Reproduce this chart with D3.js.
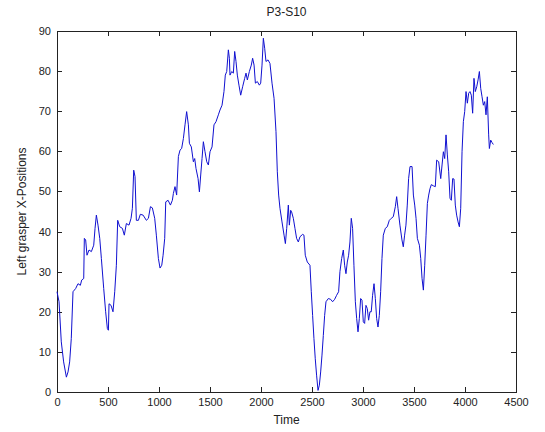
<!DOCTYPE html>
<html>
<head>
<meta charset="utf-8">
<script src="https://cdn.jsdelivr.net/npm/d3@7"></script>
<style>
  body { margin: 0; background: #fff; }
  text { font-family: "Liberation Sans", Arial, sans-serif; fill: #222; }
  .axis path, .axis line { stroke: #222; shape-rendering: crispEdges; }
  .axis text { font-size: 11px; }
</style>
</head>
<body>
<div id="canvas"></div>
<script>
// ---- DATA ----
var time = [0,20,42,65,92,108,124,140,157,183,206,229,242,262,268,281,294,314,337,360,373,386,402,419,435,458,477,494,504,510,530,549,566,582,595,615,641,660,680,706,726,739,752,765,778,798,817,844,876,896,916,935,958,974,994,1010,1027,1040,1056,1066,1089,1112,1131,
  1141,1157,1173,1190,1206,1222,1239,1255,1271,1288,1298,1317,1337,1350,1363,1383,1396,1409,1422,1435,1451,1468,1484,1500,1520,1539,1559,1582,1598,1618,1637,1650,1664,1680,1690,1696,1713,1729,1742,1755,1768,1784,1801,1820,1840,1853,1866,1886,1905,1918,1932,1945,1964,1984,1997,2010,2023,2036,2049,2069,2088,2108,2128,2147,2160,2173,2186,2206,2226,2239,2252,2268,2278,2291,
  2300,2317,2333,2349,2366,2382,2408,2421,2434,2454,2480,2493,2506,2519,2532,2545,2559,2572,2585,2598,2611,2624,2637,2660,2683,2702,2722,2741,2761,2774,2791,2807,2820,2833,2846,2859,2872,2885,2898,2911,2925,2938,2951,2964,2977,2990,3003,3016,3029,3042,3055,3068,3081,3094,3108,3121,3134,3147,3160,3173,3186,3199,3219,3238,3258,3277,3297,3317,3330,3343,3362,3382,3395,3408,3421,3434,3447,
  3461,3481,3494,3507,3520,3533,3553,3566,3579,3592,3605,3618,3631,3644,3657,3670,3690,3709,3722,3742,3762,3775,3788,3801,3814,3827,3840,3853,3866,3879,3892,3905,3918,3932,3945,3958,3971,3984,3997,4010,4023,4036,4049,4062,4075,4088,4101,4115,4128,4141,4154,4167,4180,4193,4206,4219,4232,4239,4252,4265,4278];

var posX = [25,22.5,12.5,7.5,3.7,5,7.5,13.3,25,25.8,27,26.6,27.9,28.3,38.3,37.9,34.1,35.4,35,36.6,40.8,44.1,41.6,38.3,33.3,25.8,20,15.8,15.4,22,21.6,20,25,31.6,42.8,41.2,40.8,39.1,42,41.6,43.3,45.8,55.3,53.7,42.8,42.8,44.3,44.1,42.8,43.3,46.2,45.9,43.3,39.1,33.3,30.9,31.6,34.1,38.3,47.4,47.8,46.6,47.8,
  49.5,51.2,49.1,58.7,60.3,60.7,63.2,66.6,69.9,66.6,62,61.1,57.4,58.2,55.7,53.2,49.9,54.1,58.2,62.4,59.9,57.4,56.6,59.9,61.1,66.6,67.4,69.1,70.3,71.5,74.9,79,79.9,85.3,83.2,79,79.9,79.5,84.9,82.4,79,76.5,74,76.1,78.2,79.5,77.8,79.9,81.5,83.2,81.5,77,77.4,76.5,77,81.5,88.2,85.7,82.4,82.8,81.9,77,73.2,64.9,54.9,49.1,45.8,42.4,39.1,37,40.8,46.6,41.6,45.3,
  44.9,43.3,40.8,38.3,37.4,38.7,39.3,39.1,34.1,32.4,31.6,25,19.1,13.3,8.3,4.2,0.4,1.7,5,9.2,14.1,19.1,22.5,23.3,23.1,22.5,23.1,24.1,25,30,33.3,35.4,31.6,29.5,32.4,34.1,37.4,43.3,40.8,31.6,22.5,18.3,15,18.3,23.3,22.9,17.5,17.1,21.6,20.8,17.9,20,20,24.1,27,23.3,18.3,16.2,19.1,25,33.3,39.1,40.8,41.2,42.8,43.3,43.7,46.2,48.7,45.8,41.6,37.9,36.2,39.1,41.6,46.6,53.2,
  56.2,56.2,49.1,46.6,43.3,38.3,36.6,33.3,28.3,25.4,31.6,39.1,47,49.1,50.7,51.7,51.4,51.2,57.8,57.4,53.2,56.6,59.9,58.2,64.1,59.1,54.9,48.3,47.8,53.2,53.1,46.6,44.1,42.4,41.2,45.8,59.9,67.4,69.9,74.9,72,74.5,74.9,74,69.5,78.2,74.9,76.1,77.8,79.9,75.7,73.6,71.5,72.4,69.1,73.6,64.1,60.7,62.8,62.2,61.7];

var xTicks = [0,500,1000,1500,2000,2500,3000,3500,4000,4500];
var yTicks = [0,10,20,30,40,50,60,70,80,90];

// ---- CONVENTIONS ----
var outerWidth = 545, outerHeight = 432;
var margin = {top:31, right:29, bottom:40, left:57};
var width = outerWidth - margin.left - margin.right,
    height = outerHeight - margin.top - margin.bottom;

var svg = d3.select('#canvas').append('svg')
    .attr('width', outerWidth)
    .attr('height', outerHeight);

var plot = svg.append('g')
    .attr('transform', 'translate(' + margin.left + ',' + margin.top + ')');

// ---- SCALES ----
var scaleX = d3.scaleLinear().domain([0,4500]).range([0,width]);
var scaleY = d3.scaleLinear().domain([0,90]).range([height,0]);

// ---- AXES ---- (matlab style: inward ticks on all four sides)
plot.append('g').attr('class','axis')
    .attr('transform','translate(0,' + height + ')')
    .call(d3.axisBottom(scaleX).tickValues(xTicks).tickFormat(d3.format('d'))
        .tickSizeInner(-5).tickSizeOuter(0).tickPadding(6));
plot.append('g').attr('class','axis')
    .call(d3.axisTop(scaleX).tickValues(xTicks).tickSizeInner(-5).tickSizeOuter(0).tickFormat(''));
plot.append('g').attr('class','axis')
    .call(d3.axisLeft(scaleY).tickValues(yTicks).tickFormat(d3.format('d'))
        .tickSizeInner(-5).tickSizeOuter(0).tickPadding(6));
plot.append('g').attr('class','axis')
    .attr('transform','translate(' + width + ',0)')
    .call(d3.axisRight(scaleY).tickValues(yTicks).tickSizeInner(-5).tickSizeOuter(0).tickFormat(''));

// ---- LINE ----
var data = time.map(function(t, i){ return {t: t, v: posX[i]}; });

var lineGenerator = d3.line()
    .x(function(d){ return scaleX(d.t); })
    .y(function(d){ return scaleY(d.v); });

plot.append('path')
    .datum(data)
    .attr('d', lineGenerator)
    .style('fill','none')
    .style('stroke','#1010d0')
    .style('stroke-width','1px');

// ---- LABELS ----
svg.append('text')
    .attr('x', margin.left + width/2).attr('y', 16)
    .attr('text-anchor','middle').style('font-size','12px')
    .text('P3-S10');
svg.append('text')
    .attr('x', margin.left + width/2).attr('y', 424)
    .attr('text-anchor','middle').style('font-size','12px')
    .text('Time');
svg.append('text')
    .attr('transform','translate(26,' + (margin.top + height/2) + ') rotate(-90)')
    .attr('text-anchor','middle').style('font-size','12px')
    .text('Left grasper X-Positions');
</script>
</body>
</html>
